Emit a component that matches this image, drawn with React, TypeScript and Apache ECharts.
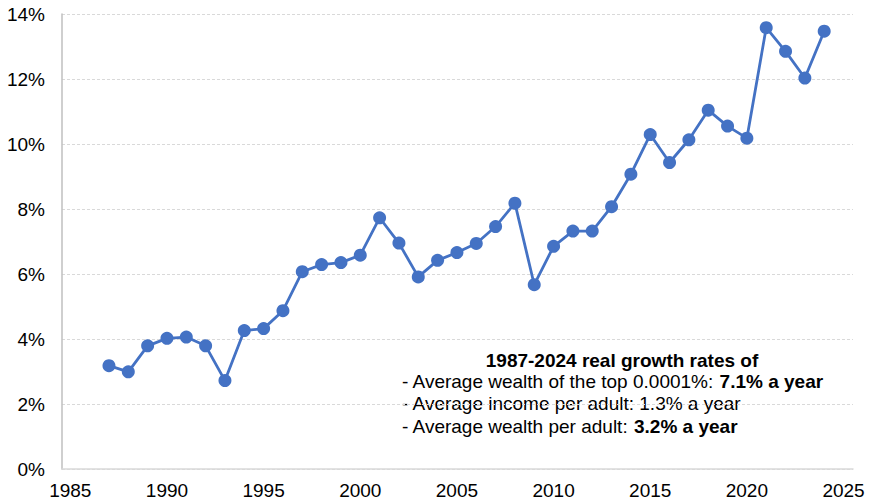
import React, { useEffect, useRef } from "react";
import * as echarts from "echarts";

const years = [1987,1988,1989,1990,1991,1992,1993,1994,1995,1996,1997,1998,1999,2000,2001,2002,2003,2004,2005,2006,2007,2008,2009,2010,2011,2012,2013,2014,2015,2016,2017,2018,2019,2020,2021,2022,2023,2024];
const values = [3.18,2.99,3.79,4.02,4.06,3.79,2.72,4.26,4.32,4.87,6.07,6.29,6.35,6.58,7.73,6.95,5.91,6.42,6.66,6.94,7.46,8.18,5.67,6.85,7.32,7.32,8.07,9.07,10.29,9.43,10.13,11.04,10.55,10.18,13.58,12.85,12.03,13.47];
const xTicks = [1985,1990,1995,2000,2005,2010,2015,2020,2025];
const yTicks = [0,2,4,6,8,10,12,14];
const noteTitle = "1987-2024 real growth rates of";
const noteLines: [string, string][] = [
  ["- Average wealth of the top 0.0001%: ", "7.1% a year"],
  ["- Average income per adult: 1.3% a year", ""],
  ["- Average wealth per adult: ", "3.2% a year"],
];

export default function App() {
  const ref = useRef<HTMLDivElement>(null);
  useEffect(() => {
    const chart = echarts.init(ref.current!, undefined, { renderer: "svg" });
    const font = "Liberation Sans, Arial, sans-serif";
    chart.setOption({
      animation: false,
      backgroundColor: "#fff",
      grid: { left: 62, right: 16, top: 14, bottom: 32, containLabel: false },
      xAxis: {
        type: "value",
        min: 1984.57,
        max: 2025.49,
        axisLine: { show: true, lineStyle: { color: "#d9d9d9", width: 1.5 } },
        axisTick: { show: false },
        splitLine: { show: false },
        axisLabel: {
          customValues: xTicks,
          color: "#000",
          fontSize: 19,
          fontFamily: font,
          margin: 12,
          formatter: (v: number) => String(Math.round(v)),
        },
      },
      yAxis: {
        type: "value",
        min: 0,
        max: 14,
        interval: 2,
        axisLine: { show: true, lineStyle: { color: "#bfbfbf", width: 1.5 } },
        axisTick: { show: false },
        splitLine: { show: true, lineStyle: { color: "#d9d9d9", type: [3, 2], width: 1 } },
        axisLabel: {
          customValues: yTicks,
          color: "#000",
          fontSize: 19,
          fontFamily: font,
          margin: 17,
          formatter: (v: number) => v + "%",
        },
      },
      series: [
        {
          type: "line",
          data: years.map((y, i) => [y, values[i]]),
          symbol: "circle",
          symbolSize: 13,
          lineStyle: { color: "#4472C4", width: 2.8 },
          itemStyle: { color: "#4472C4" },
          z: 3,
        },
      ],
      graphic: [
        {
          type: "text",
          x: 622,
          y: 360,
          style: {
            text: noteTitle,
            font: `bold 19px ${font}`,
            fill: "#000",
            align: "center",
            verticalAlign: "middle",
          },
        },
        ...noteLines.map((l, i) => ({
          type: "text",
          x: 402,
          y: 381.5 + i * 22.4,
          style: {
            text: `{n|${l[0]}}` + (l[1] ? `{b|${l[1]}}` : ""),
            align: "left",
            verticalAlign: "middle",
            rich: {
              n: { fontSize: 19, fontFamily: font, color: "#000" },
              b: { fontWeight: "bold", fontSize: 19, fontFamily: font, color: "#000" },
            },
          },
        })),
      ],
    });
    return () => chart.dispose();
  }, []);
  return <div ref={ref} style={{ width: 869, height: 501, position: "absolute", left: 0, top: 0 }} />;
}
